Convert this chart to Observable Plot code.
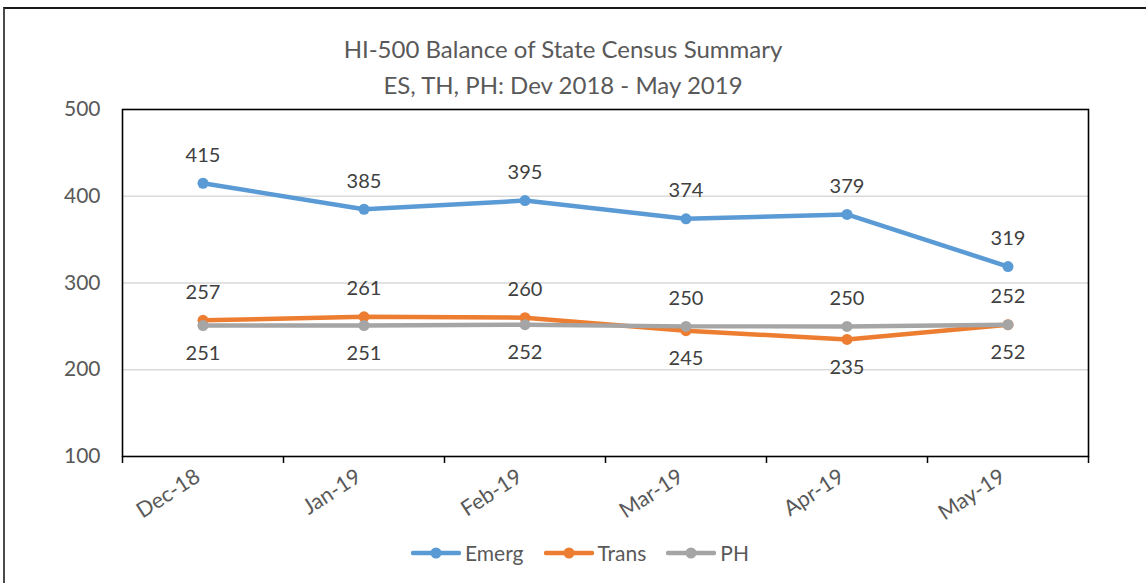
<!DOCTYPE html>
<html><head><meta charset="utf-8">
<script src="https://cdn.jsdelivr.net/npm/d3@7"></script>
<script src="https://cdn.jsdelivr.net/npm/@observablehq/plot@0.6"></script>
<style>
body{margin:0;background:#fff;font-family:Lato,"Open Sans",sans-serif;}
#wrap{position:relative;width:1146px;height:583px;overflow:hidden;background:#fff;}
#border{position:absolute;left:3px;top:7px;width:1300px;height:800px;border-left:2px solid #4a4a4a;border-top:2px solid #1a1a1a;}
.title{position:absolute;left:0;width:1126px;text-align:center;color:#595959;font-size:24px;line-height:1;white-space:nowrap;}
#legend{position:absolute;top:540px;left:0;width:1160px;display:flex;justify-content:center;align-items:center;gap:0px;color:#595959;font-size:21px;}
#legend .item{display:flex;align-items:center;margin:0 10px;}
#legend svg{margin-right:4px;}
#chart{position:absolute;left:0;top:0;}
</style></head>
<body>
<div id="wrap">
  <div id="border"></div>
  <div class="title" style="top:37px">HI-500 Balance of State Census Summary</div>
  <div class="title" style="top:73px">ES, TH, PH: Dev 2018 - May 2019</div>
  <div id="chart"></div>
  <div id="legend"></div>
</div>
<script>
const months = ["Dec-18","Jan-19","Feb-19","Mar-19","Apr-19","May-19"];
const emerg = [415,385,395,374,379,319];
const trans = [257,261,260,245,235,252];
const ph = [251,251,252,250,250,252];
const seriesNames = ["Emerg","Trans","PH"];
const seriesColors = ["#5B9BD5","#ED7D31","#A5A5A5"];
const yTicks = [100,200,300,400,500];

const values = [emerg, trans, ph];
const rows = [];
values.forEach((arr, s) => arr.forEach((v, i) => {
  let pos = "above";
  if (s === 1) pos = v >= ph[i] ? "above" : "below";
  if (s === 2) pos = v > trans[i] ? "above" : "below";
  rows.push({series: seriesNames[s], idx: i, x: i + 0.5, value: v, pos});
}));

const lineMarks = seriesNames.flatMap((name, s) => {
  const d = rows.filter(r => r.series === name);
  return [
    Plot.line(d, {x: "x", y: "value", stroke: seriesColors[s], strokeWidth: 4.5, strokeLinejoin: "round", strokeLinecap: "round"}),
    Plot.dot(d, {x: "x", y: "value", r: 5.5, fill: seriesColors[s], stroke: "none"})
  ];
});

const chart = Plot.plot({
  width: 1146,
  height: 583,
  marginLeft: 122,
  marginRight: 58,
  marginTop: 109,
  marginBottom: 127,
  style: {fontFamily: "Lato, 'Open Sans', sans-serif", color: "#595959", background: "transparent", overflow: "visible"},
  x: {type: "linear", domain: [0, months.length], axis: null},
  y: {domain: [100, 500], axis: null},
  marks: [
    Plot.gridY([200, 300, 400], {stroke: "#d9d9d9", strokeOpacity: 1, strokeWidth: 1.3}),
    ...lineMarks,
    Plot.text(rows.filter(r => r.pos === "above"), {x: "x", y: "value", text: d => String(d.value), dy: -28, fontSize: 20, fill: "#404040"}),
    Plot.text(rows.filter(r => r.pos === "below"), {x: "x", y: "value", text: d => String(d.value), dy: 28, fontSize: 20, fill: "#404040"}),
    Plot.frame({stroke: "#000", strokeWidth: 1.6}),
    Plot.axisY(yTicks, {label: null, tickSize: 0, tickPadding: 22, fontSize: 21, fill: "#595959"}),
    Plot.axisX(d3.range(0, months.length + 1), {label: null, tickSize: 7, stroke: "#000", strokeWidth: 1.5, tickFormat: () => ""}),
    Plot.axisX(months.map((m, i) => i + 0.5), {label: null, tickSize: 0, tickPadding: 18, tickRotate: -33, fontSize: 21.5, fill: "#595959", tickFormat: v => months[Math.floor(v)], dx: -5})
  ]
});
document.getElementById("chart").appendChild(chart);

const legend = document.getElementById("legend");
seriesNames.forEach((name, s) => {
  const item = document.createElement("div");
  item.className = "item";
  item.innerHTML = `<svg width="50" height="14"><line x1="2" y1="7" x2="48" y2="7" stroke="${seriesColors[s]}" stroke-width="4.5" stroke-linecap="round"/><circle cx="25" cy="7" r="5.5" fill="${seriesColors[s]}"/></svg><span>${name}</span>`;
  legend.appendChild(item);
});
</script>
</body></html>
